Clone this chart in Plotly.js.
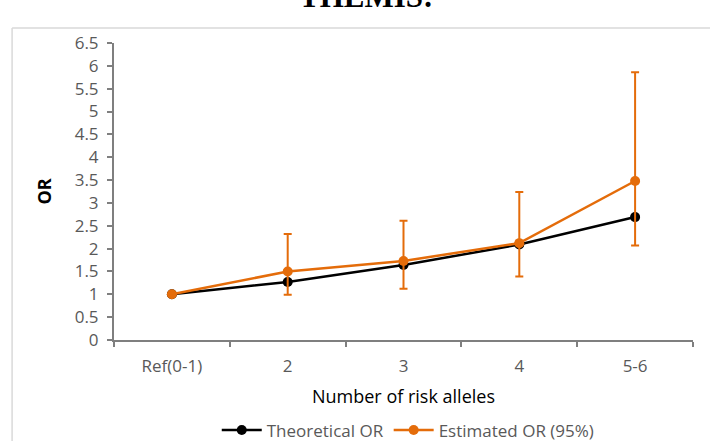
<!DOCTYPE html>
<html><head><meta charset="utf-8">
<script src="https://cdn.plot.ly/plotly-3.0.1.min.js"></script>
<style>html,body{margin:0;padding:0;background:#fff;}#chart{width:710px;height:441px;}</style>
</head><body><div id="chart"></div>
<script>
const categories = ["Ref(0-1)", "2", "3", "4", "5-6"];
const theoreticalOR = [1.0, 1.27, 1.64, 2.09, 2.69];
const estimatedOR = [1.0, 1.50, 1.73, 2.12, 3.48];
const estimatedUpper = [null, 2.32, 2.61, 3.24, 5.86];
const estimatedLower = [null, 0.99, 1.12, 1.39, 2.07];
const yTicks = [0,0.5,1,1.5,2,2.5,3,3.5,4,4.5,5,5.5,6,6.5];

const errPlus = estimatedOR.map((v,i)=> estimatedUpper[i]==null ? null : estimatedUpper[i]-v);
const errMinus = estimatedOR.map((v,i)=> estimatedLower[i]==null ? null : v-estimatedLower[i]);

const orange = '#E46C0A';
const fam = '"Open Sans", Lato, sans-serif';
const traces = [
  {x: categories, y: theoreticalOR, name: 'Theoretical OR', type: 'scatter', mode: 'lines+markers',
   line: {color: '#000000', width: 2.5}, marker: {color: '#000000', size: 10}},
  {x: categories, y: estimatedOR, name: 'Estimated OR (95%)', type: 'scatter', mode: 'lines+markers',
   line: {color: orange, width: 2.5}, marker: {color: orange, size: 10},
   error_y: {type: 'data', symmetric: false, array: errPlus, arrayminus: errMinus, color: orange, thickness: 2, width: 4}}
];

const tickFont = {family: fam, size: 17, color: '#595959'};
const layout = {
  width: 710, height: 441,
  margin: {l: 114, r: 17, t: 43, b: 101},
  paper_bgcolor: '#ffffff', plot_bgcolor: '#ffffff',
  showlegend: true,
  legend: {orientation: 'h', x: 0.575, xanchor: 'center', xref: 'container', yref: 'container', y: 0.024, yanchor: 'middle',
           font: {family: fam, size: 17, color: '#595959'}, itemwidth: 40, tracegroupgap: 0},
  xaxis: {type: 'category', tickfont: tickFont, showline: true, linecolor: '#7f7f7f', linewidth: 2,
          ticks: 'outside', tickson: 'boundaries', ticklen: 5, tickcolor: '#7f7f7f', tickwidth: 2,
          ticklabelstandoff: 10, automargin: false,
          showgrid: false, zeroline: false, range: [-0.5, 4.5],
          title: {text: 'Number of risk alleles', font: {family: fam, size: 18, color: '#000000'}, standoff: 14}},
  yaxis: {range: [0, 6.5], tickvals: yTicks, ticktext: yTicks.map(String), tickfont: tickFont,
          showline: true, linecolor: '#7f7f7f', linewidth: 2, ticks: 'outside', ticklen: 5, tickcolor: '#7f7f7f', tickwidth: 2,
          ticklabelstandoff: 5, automargin: false,
          showgrid: false, zeroline: false,
          title: {text: '<b>OR</b>', font: {family: fam, size: 18, color: '#000000'}, standoff: 18}},
  shapes: [
    {type: 'line', xref: 'paper', yref: 'paper', x0: -0.176, x1: 1.1, y0: 1.0505, y1: 1.0505, line: {color: '#d9d9d9', width: 1.5}},
    {type: 'line', xref: 'paper', yref: 'paper', x0: -0.176, x1: -0.176, y0: 1.0505, y1: -0.4, line: {color: '#d9d9d9', width: 1.5}}
  ],
  annotations: [
    {text: '<b>THEMIS:</b>', xref: 'paper', yref: 'paper', x: 0.435, y: 1.09, xanchor: 'center', yanchor: 'bottom',
     showarrow: false, font: {family: '"Liberation Serif", serif', size: 31, color: '#000000'}}
  ]
};
Plotly.newPlot('chart', traces, layout, {displayModeBar: false, staticPlot: true});
</script></body></html>
